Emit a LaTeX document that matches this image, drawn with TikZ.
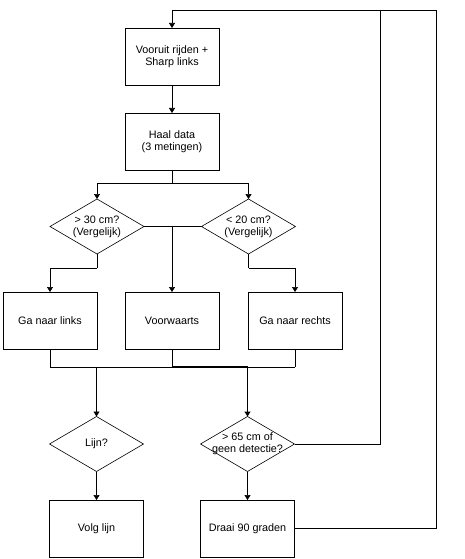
\documentclass[tikz,border=0pt]{standalone}
\usepackage{fontspec}
\setmainfont{Liberation Sans}
\usetikzlibrary{arrows.meta,shapes.geometric}
\begin{document}
\begin{tikzpicture}[x=1pt,y=-1pt,
  font=\fontsize{10.8}{12.2}\selectfont,
  line width=0.6pt,
  every node/.style={inner sep=0pt, outer sep=0pt},
  procbox/.style={draw, rectangle, minimum width=94pt, minimum height=57pt, align=center, fill=white},
  decide/.style={draw, diamond, minimum width=94pt, minimum height=55pt, fill=white},
  dlabel/.style={label={[align=center]center:#1}},
  flow/.style={-{Triangle[length=5pt,width=6pt]}},
  thickflow/.style={line width=1.3pt,-{Triangle[length=5pt,width=6pt]}}
]
\useasboundingbox (0,0) rectangle (465,559);

% nodes
\node[procbox] (b1) at (172,56.5) {Vooruit rijden +\\Sharp links};
\node[procbox] (b2) at (172,141.5) {Haal data\\(3 metingen)};
\node[decide, dlabel={> 30 cm?\\(Vergelijk)}] (d1) at (97,226.5) {};
\node[decide, dlabel={< 20 cm?\\(Vergelijk)}] (d2) at (248.5,226.5) {};
\node[procbox] (gl) at (50,320.5) {Ga naar links};
\node[procbox] (vw) at (172,320.5) {Voorwaarts};
\node[procbox] (gr) at (295,320.5) {Ga naar rechts};
\node[decide, dlabel={Lijn?}] (d3) at (96.5,444) {};
\node[decide, dlabel={> 65 cm of\\geen detectie?}] (d4) at (247.5,444) {};
\node[procbox] (vl) at (96.5,528.5) {Volg lijn};
\node[procbox] (dr) at (247.5,528.5) {Draai 90 graden};

% helper coordinates
\coordinate (split) at (172,183);
\coordinate (mid) at (172,226.5);
\coordinate (d1low) at (97,268);
\coordinate (d2low) at (248.5,268);
\coordinate (jl) at (50,367);
\coordinate (jv) at (172,367);
\coordinate (jr) at (295,367);
\coordinate (j3) at (96.5,367);
\coordinate (j4) at (247.5,367);
\coordinate (rin) at (380,444);
\coordinate (rintop) at (380,10);
\coordinate (rout) at (436,528.5);
\coordinate (routtop) at (436,10);
\coordinate (top) at (172,10);

% connectors
\draw[flow] (b1) -- (b2);
\draw (b2) -- (split);
\draw[flow] (split) -| (d1.north);
\draw[flow] (split) -| (d2.north);
\draw (d1.east) -- (d2.west);
\draw[flow] (mid) -- (vw.north);
\draw (d1.south) -- (d1low);
\draw[flow] (d1low) -| (gl.north);
\draw (d2.south) -- (d2low);
\draw[flow] (d2low) -| (gr.north);
\draw (gl.south) -- (jl) -- (jr);
\draw (vw.south) -- (jv);
\draw (gr.south) -- (jr);
\draw[flow] (j3) -- (d3.north);
\draw[thickflow] (jv) -- (j4) -- (d4.north);
\draw[flow] (d3.south) -- (vl.north);
\draw[flow] (d4.south) -- (dr.north);
\draw (d4.east) -- (rin) -- (rintop);
\draw (dr.east) -- (rout) -- (routtop) -- (top);
\draw[flow] (top) -- (b1.north);
\end{tikzpicture}
\end{document}
